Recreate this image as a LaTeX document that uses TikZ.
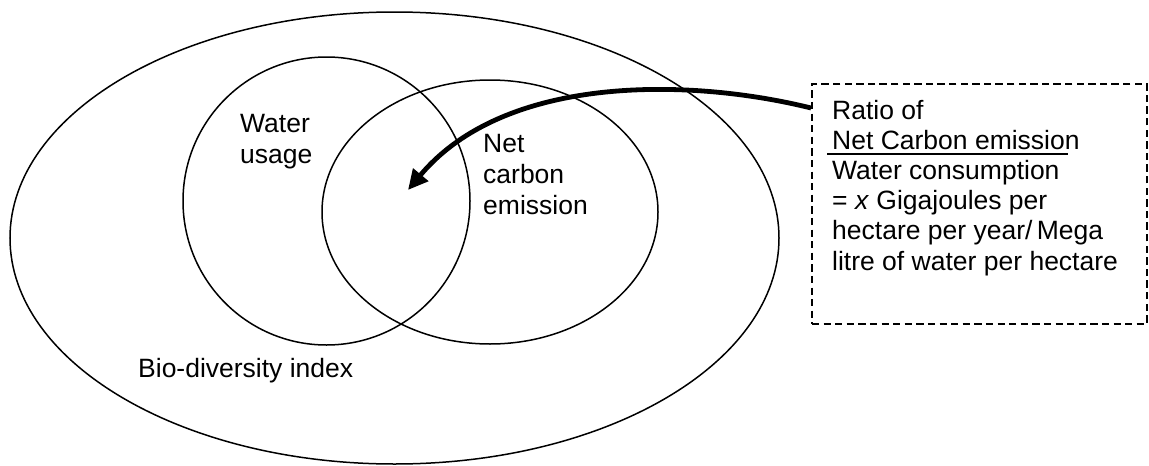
\documentclass[tikz,border=0pt]{standalone}
\usepackage{fontspec}
\setmainfont{Liberation Sans}
\usetikzlibrary{shapes.geometric,arrows.meta}
\begin{document}
\begin{tikzpicture}[x=1pt,y=-1pt,
  ring/.style={ellipse, draw, line width=1.5pt, inner sep=0pt},
  lbl/.style={anchor=base west, inner sep=0pt, font=\fontsize{26.5}{30}\selectfont},
  dashbox/.style={draw, dash pattern=on 7.3pt off 4.3pt, line width=1.8pt, inner sep=0pt},
  bigarrow/.style={line width=4.8pt, -{Triangle[length=20pt,width=19pt]}},
  fracline/.style={line width=1.8pt}]
\useasboundingbox (0,0) rectangle (1149,466);
% ellipses
\node[ring, minimum width=769pt, minimum height=452pt] (bio) at (394.5,238) {};
\node[ring, minimum width=287pt, minimum height=288pt] (water) at (326.5,201) {};
\node[ring, minimum width=336pt, minimum height=264pt] (carbon) at (490,212) {};
% labels
\node[lbl] (w1) at (240,132) {Water};
\node[lbl] (w2) at (240,163) {usage};
\node[lbl] (c1) at (483,152) {Net};
\node[lbl] (c2) at (483,183) {carbon};
\node[lbl] (c3) at (483,214) {emission};
\node[lbl] (b1) at (138,377) {Bio-diversity index};
% dashed box
\node[dashbox, minimum width=335pt, minimum height=240pt, anchor=north west] (box) at (811,83) {};
\node[lbl] (r1) at (832,119) {Ratio of};
\node[lbl] (r2) at (832,149.2) {Net Carbon emission};
\node[lbl] (r3) at (832,179.4) {Water consumption};
\node[lbl] (r4) at (832,209.6) {= \textit{x} Gigajoules per};
\node[lbl] (r5) at (832,239.8) {hectare per year/\,Mega};
\node[lbl] (r6) at (832,270) {litre of water per hectare};
\coordinate (fl) at (827,154);
\coordinate (fr) at (1068,154);
\draw[fracline] (fl) -- (fr);
% arrow
\coordinate (astart) at (811,108);
\coordinate (atip) at (408,190);
\draw[bigarrow] (astart) .. controls (690,78) and (505,74) .. (atip);
\end{tikzpicture}
\end{document}
